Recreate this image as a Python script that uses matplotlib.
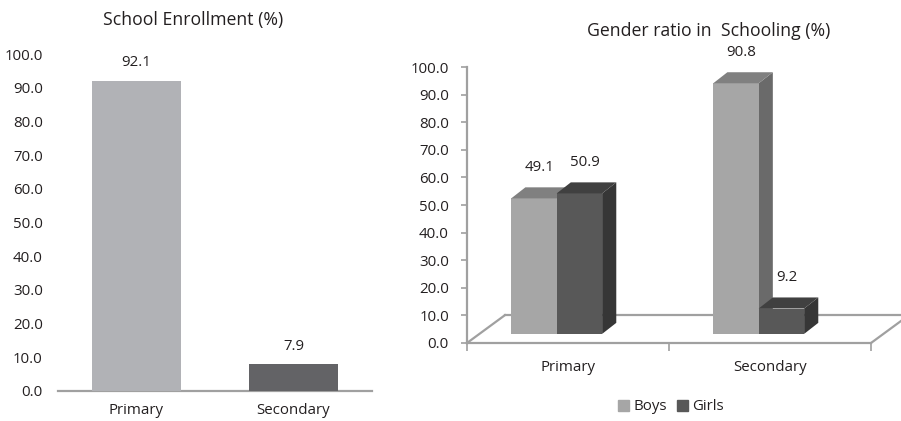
import matplotlib
matplotlib.use("Agg")
import matplotlib.pyplot as plt
from matplotlib.patches import Polygon, Patch

# data
levels = ["Primary", "Secondary"]
enrollment = [92.1, 7.9]
boys = [49.1, 90.8]
girls = [50.9, 9.2]

TEXT = "#231f20"
AXIS = "#a0a0a0"
ENROL_COLORS = ["#b1b2b6", "#636366"]
BOYS_FRONT, BOYS_TOP, BOYS_SIDE = "#a6a6a6", "#808080", "#6a6a6a"
GIRLS_FRONT, GIRLS_TOP, GIRLS_SIDE = "#585858", "#404040", "#363636"

plt.rcParams["font.family"] = ["Open Sans", "DejaVu Sans"]
plt.rcParams["text.color"] = TEXT
FS = 10.8

W, H = 901, 421
fig = plt.figure(figsize=(W / 100, H / 100), dpi=100, facecolor="white")


def px_axes(left, right, bottom, top):
    return fig.add_axes([left / W, 1 - bottom / H, (right - left) / W, (bottom - top) / H])


# ---------------- left: school enrollment ----------------
ax1 = px_axes(58, 372, 391, 54)
x = range(len(levels))
ax1.bar(x, enrollment, width=0.57, color=ENROL_COLORS, zorder=3)
ax1.set_xlim(-0.5, 1.5)
ax1.set_ylim(0, 100)
ax1.set_yticks(range(0, 101, 10))
ax1.set_yticklabels([f"{v:.1f}" for v in range(0, 101, 10)], fontsize=FS, color=TEXT)
ax1.set_xticks(list(x))
ax1.set_xticklabels(levels, fontsize=FS, color=TEXT)
ax1.tick_params(axis="y", length=0, pad=11)
ax1.tick_params(axis="x", length=0, pad=9)
for s in ["top", "right", "left"]:
    ax1.spines[s].set_visible(False)
ax1.spines["bottom"].set_color(AXIS)
ax1.spines["bottom"].set_linewidth(1.6)
for i, v in enumerate(enrollment):
    ax1.annotate(f"{v:.1f}", (i, v), xytext=(0, 13), textcoords="offset points",
                 ha="center", va="center", fontsize=FS, color=TEXT)
fig.text(193 / W, 1 - 20 / H, "School Enrollment (%)", ha="center", va="center",
         fontsize=12.7, color=TEXT)

# ---------------- right: gender ratio (pseudo 3D) ----------------
ax2 = px_axes(467, 871, 343, 67)
ax2.set_xlim(-0.5, 1.5)
ax2.set_ylim(0, 100)

# floor parallelogram
fdx, fdy = 0.188, 10.1
floor_kw = dict(color=AXIS, lw=1.6, clip_on=False, zorder=1)
ax2.plot([-0.5, 1.5], [0, 0], **floor_kw)
ax2.plot([-0.5, -0.5 + fdx], [0, fdy], **floor_kw)
ax2.plot([-0.5 + fdx, 1.5 + fdx], [fdy, fdy], **floor_kw)
ax2.plot([1.5, 1.5 + fdx], [0, fdy], **floor_kw)

# bars: front faces via ax.bar, top and side faces as polygons
base = 3.3
bw = 0.225
shift = -0.056
dx, dy = 0.07, 4.0


def bar3d(xc, vals, front, top, side):
    ax2.bar(xc, vals, width=bw, bottom=base, color=front, zorder=3)
    for xi, v in zip(xc, vals):
        x0, x1 = xi - bw / 2, xi + bw / 2
        yt = base + v
        ax2.add_patch(Polygon([(x0, yt), (x0 + dx, yt + dy), (x1 + dx, yt + dy), (x1, yt)],
                              closed=True, facecolor=top, edgecolor="none", zorder=3))
        ax2.add_patch(Polygon([(x1, base), (x1 + dx, base + dy), (x1 + dx, yt + dy), (x1, yt)],
                              closed=True, facecolor=side, edgecolor="none", zorder=2.9))


xb = [i + shift - bw / 2 for i in range(len(levels))]
xg = [i + shift + bw / 2 for i in range(len(levels))]
bar3d(xb, boys, BOYS_FRONT, BOYS_TOP, BOYS_SIDE)
bar3d(xg, girls, GIRLS_FRONT, GIRLS_TOP, GIRLS_SIDE)

for xs, vals in [(xb, boys), (xg, girls)]:
    for xi, v in zip(xs, vals):
        ax2.annotate(f"{v:.1f}", (xi, base + v), xytext=(4, 22), textcoords="offset points",
                     ha="center", va="center", fontsize=FS, color=TEXT)

ax2.set_yticks(range(0, 101, 10))
ax2.set_yticklabels([f"{v:.1f}" for v in range(0, 101, 10)], fontsize=FS, color=TEXT)
ax2.tick_params(axis="y", length=4, width=1.2, color=AXIS, pad=9)
ax2.set_xticks(range(len(levels)))
ax2.set_xticklabels(levels, fontsize=FS, color=TEXT)
ax2.set_xticks([-0.5, 0.5, 1.5], minor=True)
ax2.tick_params(axis="x", which="major", length=0, pad=12)
ax2.tick_params(axis="x", which="minor", length=6, width=1.2, color=AXIS)
for s in ["top", "right", "bottom"]:
    ax2.spines[s].set_visible(False)
ax2.spines["left"].set_color(AXIS)
ax2.spines["left"].set_linewidth(1.6)

fig.text(709 / W, 1 - 31 / H, "Gender ratio in  Schooling (%)", ha="center", va="center",
         fontsize=12.7, color=TEXT)

handles = [Patch(color=BOYS_FRONT, label="Boys"), Patch(color=GIRLS_FRONT, label="Girls")]
fig.legend(handles=handles, loc="center", bbox_to_anchor=(671 / W, 1 - 407 / H), ncol=2,
           frameon=False, fontsize=FS, handlelength=0.7, handleheight=0.7,
           handletextpad=0.3, columnspacing=0.7)

fig.savefig("out.png", dpi=100, facecolor="white")
